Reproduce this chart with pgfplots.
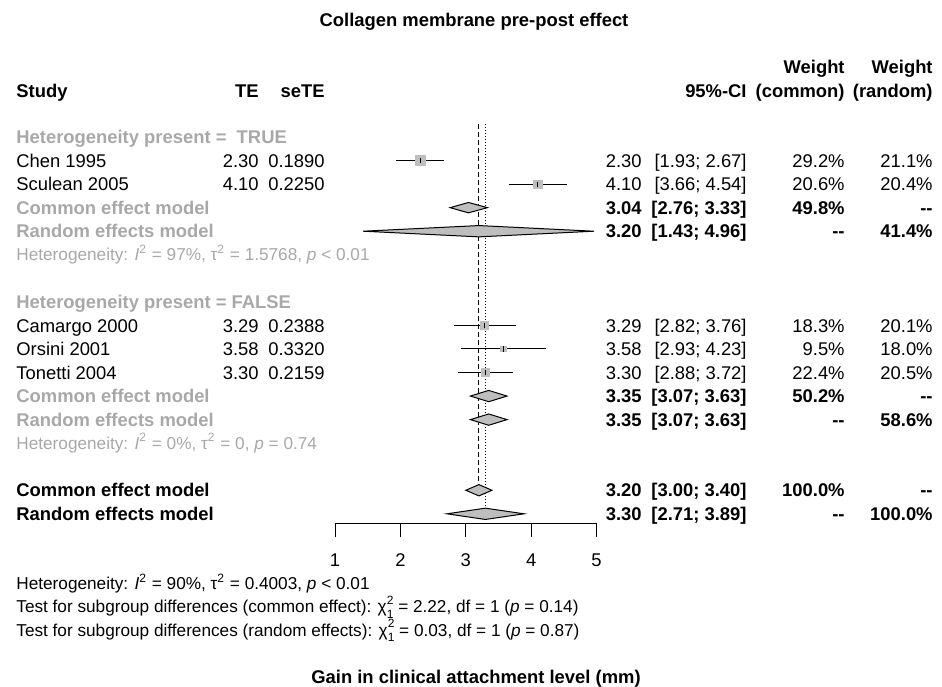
\documentclass[border=0pt]{standalone}
\usepackage{fontspec}
\setmainfont{Liberation Sans}
\usepackage{pgfplots}
\pgfplotsset{compat=1.18}
\usepackage{pgfplotstable}

\definecolor{boxgray}{HTML}{BEBEBE}
\definecolor{labgray}{HTML}{A8A8A8}

\newcommand{\fs}{\fontsize{9.2}{11}\selectfont}
\newcommand{\hs}{\fontsize{8.6}{10}\selectfont}
\newcommand{\chisq}{χ\rlap{\raisebox{0.5em}{\fontsize{6}{6}\selectfont 2}}\raisebox{-0.32em}{\fontsize{6}{6}\selectfont 1}}

% study estimates, CI, plot row, common weight (%)
\pgfplotstableread{
study   est  lo   hi   row w
Chen    2.30 1.93 2.67 1   29.2
Sculean 4.10 3.66 4.54 2   20.6
Camargo 3.29 2.82 3.76 8   18.3
Orsini  3.58 2.93 4.23 9   9.5
Tonetti 3.30 2.88 3.72 10  22.4
}\studies

% baseline of text row k (pixel units)
\newcommand{\by}[1]{{143.6+23.55*#1}}
\newcommand{\hy}[1]{{143.2+23.55*#1}}

\newcommand{\studyrow}[8]{%
  \node[anchor=base west] at (16,\by{#1}) {#2};
  \node[anchor=base east] at (259,\by{#1}) {#3};
  \node[anchor=base east] at (325,\by{#1}) {#4};
  \node[anchor=base east] at (642,\by{#1}) {#5};
  \node[anchor=base east] at (747,\by{#1}) {#6};
  \node[anchor=base east] at (845,\by{#1}) {#7};
  \node[anchor=base east] at (933,\by{#1}) {#8};
}
\newcommand{\modelrow}[7]{%
  \node[anchor=base west, text=#3, font=\fs\bfseries] at (16,\by{#1}) {#2};
  \node[anchor=base east, font=\fs\bfseries] at (642,\by{#1}) {#4};
  \node[anchor=base east, font=\fs\bfseries] at (747,\by{#1}) {#5};
  \node[anchor=base east, font=\fs\bfseries] at (845,\by{#1}) {#6};
  \node[anchor=base east, font=\fs\bfseries] at (933,\by{#1}) {#7};
}

\begin{document}
\begin{tikzpicture}
\begin{axis}[
  at={(0,0)}, anchor=north west,
  scale only axis, width=471pt, height=343pt,
  hide axis, clip=false,
  xmin=-4.1223, xmax=10.2813,
  ymin=-5.8174, ymax=23.312, y dir=reverse,
]
% common (dashed) and random (dotted) reference lines
\addplot[black, line width=0.5pt, dash pattern=on 2.5pt off 1.5pt] coordinates {(3.20,-0.55)(3.20,15)};
\addplot[black, line width=0.5pt, dash pattern=on 0.5pt off 1pt] coordinates {(3.30,-0.55)(3.30,16)};

% study boxes, side proportional to sqrt(weight)
\addplot[scatter, only marks, mark=square*,
  scatter/use mapped color={draw=boxgray, fill=boxgray},
  visualization depends on={2.5*sqrt(\thisrow{w}/29.2) \as \msz},
  scatter/@pre marker code/.append style={/tikz/mark size=\msz pt, /tikz/line width=0pt}]
  table[x=est, y=row] {\studies};

% confidence intervals and estimate ticks
\addplot[black, line width=0.5pt, only marks, mark=|, mark size=1.3pt,
  error bars/.cd, x dir=both, x explicit, error mark=none,
  error bar style={line width=0.5pt}]
  table[x=est, y=row,
    x error plus expr=\thisrow{hi}-\thisrow{est},
    x error minus expr=\thisrow{est}-\thisrow{lo}] {\studies};

% pooled diamonds
\addplot[draw=black, fill=boxgray, line width=0.5pt] coordinates {(2.76,3)(3.04,2.78)(3.33,3)(3.04,3.22)} -- cycle;
\addplot[draw=black, fill=boxgray, line width=0.5pt] coordinates {(1.43,4)(3.20,3.76)(4.96,4)(3.20,4.24)} -- cycle;
\addplot[draw=black, fill=boxgray, line width=0.5pt] coordinates {(3.07,11)(3.35,10.76)(3.63,11)(3.35,11.24)} -- cycle;
\addplot[draw=black, fill=boxgray, line width=0.5pt] coordinates {(3.07,12)(3.35,11.76)(3.63,12)(3.35,12.24)} -- cycle;
\addplot[draw=black, fill=boxgray, line width=0.5pt] coordinates {(3.00,15)(3.20,14.76)(3.40,15)(3.20,15.24)} -- cycle;
\addplot[draw=black, fill=boxgray, line width=0.5pt] coordinates {(2.71,16)(3.30,15.76)(3.89,16)(3.30,16.24)} -- cycle;

% x axis
\addplot[black, line width=0.5pt] coordinates {(1,16.41)(5,16.41)};
\pgfplotsinvokeforeach{1,2,3,4,5}{
  \draw[black, line width=0.5pt] (axis cs:#1,16.41) -- (axis cs:#1,16.985);
  \node[anchor=center, inner sep=0pt, font=\fs] at (axis cs:#1,17.96) {#1};
}
\end{axis}

\begin{scope}[x=0.5pt, y=-0.5pt, every node/.style={inner sep=0pt, font=\fs}]
\node[anchor=base, font=\fs\bfseries] at (474,26.6) {Collagen membrane pre-post effect};

% column headings
\node[anchor=base east, font=\fs\bfseries] at (845,73.6) {Weight};
\node[anchor=base east, font=\fs\bfseries] at (933,73.6) {Weight};
\node[anchor=base west, font=\fs\bfseries] at (16,97.6) {Study};
\node[anchor=base east, font=\fs\bfseries] at (259,97.6) {TE};
\node[anchor=base east, font=\fs\bfseries] at (325,97.6) {seTE};
\node[anchor=base east, font=\fs\bfseries] at (747,97.6) {95\%-CI};
\node[anchor=base east, font=\fs\bfseries] at (845,97.6) {(common)};
\node[anchor=base east, font=\fs\bfseries] at (933,97.6) {(random)};

% subgroup TRUE
\node[anchor=base west, text=labgray, font=\fs\bfseries] at (16,\by{0}) {Heterogeneity present =\ \ TRUE};
\studyrow{1}{Chen 1995}{2.30}{0.1890}{2.30}{[1.93; 2.67]}{29.2\%}{21.1\%}
\studyrow{2}{Sculean 2005}{4.10}{0.2250}{4.10}{[3.66; 4.54]}{20.6\%}{20.4\%}
\modelrow{3}{Common effect model}{labgray}{3.04}{[2.76; 3.33]}{49.8\%}{-{}-}
\modelrow{4}{Random effects model}{labgray}{3.20}{[1.43; 4.96]}{-{}-}{41.4\%}
\node[anchor=base west, text=labgray, font=\hs] at (16,\hy{5}) {Heterogeneity: \textit{I}\textsuperscript{2} = 97\%, τ\textsuperscript{2} = 1.5768, \textit{p} < 0.01};

% subgroup FALSE
\node[anchor=base west, text=labgray, font=\fs\bfseries] at (16,\by{7}) {Heterogeneity present = FALSE};
\studyrow{8}{Camargo 2000}{3.29}{0.2388}{3.29}{[2.82; 3.76]}{18.3\%}{20.1\%}
\studyrow{9}{Orsini 2001}{3.58}{0.3320}{3.58}{[2.93; 4.23]}{9.5\%}{18.0\%}
\studyrow{10}{Tonetti 2004}{3.30}{0.2159}{3.30}{[2.88; 3.72]}{22.4\%}{20.5\%}
\modelrow{11}{Common effect model}{labgray}{3.35}{[3.07; 3.63]}{50.2\%}{-{}-}
\modelrow{12}{Random effects model}{labgray}{3.35}{[3.07; 3.63]}{-{}-}{58.6\%}
\node[anchor=base west, text=labgray, font=\hs] at (16,\hy{13}) {Heterogeneity: \textit{I}\textsuperscript{2} = 0\%, τ\textsuperscript{2} = 0, \textit{p} = 0.74};

% overall
\modelrow{15}{Common effect model}{black}{3.20}{[3.00; 3.40]}{100.0\%}{-{}-}
\modelrow{16}{Random effects model}{black}{3.30}{[2.71; 3.89]}{-{}-}{100.0\%}

% footer
\node[anchor=base west, font=\hs] at (16,589.7) {Heterogeneity: \textit{I}\textsuperscript{2} = 90\%, τ\textsuperscript{2} = 0.4003, \textit{p} < 0.01};
\node[anchor=base west, font=\hs] at (16,612.7) {Test for subgroup differences (common effect): \chisq{} = 2.22, df = 1 (\textit{p} = 0.14)};
\node[anchor=base west, font=\hs] at (16,636.2) {Test for subgroup differences (random effects): \chisq{} = 0.03, df = 1 (\textit{p} = 0.87)};

\node[anchor=base, font=\fs\bfseries] at (476,683.6) {Gain in clinical attachment level (mm)};
\end{scope}

\pgfresetboundingbox
\path[use as bounding box] (0,0) rectangle (471pt,-343pt);
\end{tikzpicture}
\end{document}
